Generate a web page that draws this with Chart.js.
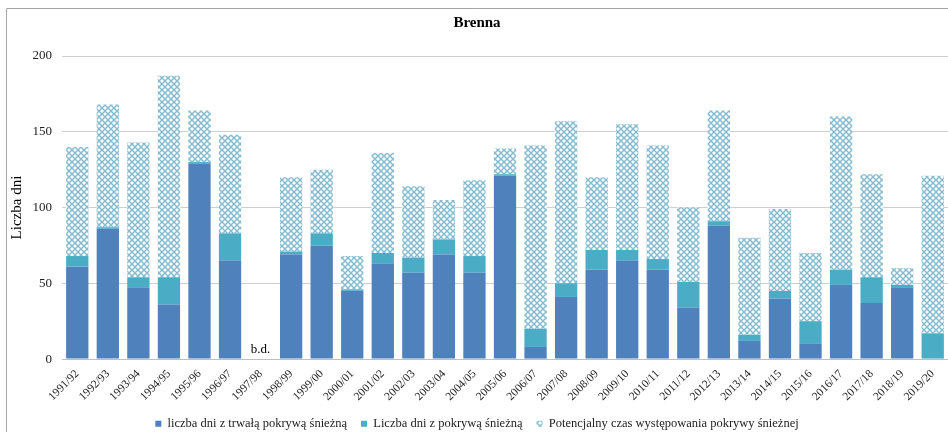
<!DOCTYPE html>
<html>
<head>
<meta charset="utf-8">
<script src="https://cdn.jsdelivr.net/npm/chart.js@4/dist/chart.umd.min.js"></script>
<style>
  html, body { margin: 0; padding: 0; background: #fff; overflow: hidden; }
  #wrap { position: relative; width: 948px; height: 432px; }
</style>
</head>
<body>
<div id="wrap"><canvas id="chart" width="948" height="432"></canvas></div>
<script>
// Sezony zimowe
const seasons = [
  "1991/92", "1992/93", "1993/94", "1994/95", "1995/96", "1996/97", "1997/98",
  "1998/99", "1999/00", "2000/01", "2001/02", "2002/03", "2003/04", "2004/05",
  "2005/06", "2006/07", "2007/08", "2008/09", "2009/10", "2010/11", "2011/12",
  "2012/13", "2013/14", "2014/15", "2015/16", "2016/17", "2017/18", "2018/19",
  "2019/20"
];

// dni z trwałą pokrywą
const stableCover = [61, 86, 47, 36, 129, 65, null, 69, 75, 45, 63, 57, 69, 57, 121, 8, 41, 59, 65, 59, 34, 88, 12, 40, 10, 49, 37, 47, 0];
// pozostałe dni z pokrywą (nadwyżka ponad trwałą)
const otherCover = [7, 1, 7, 18, 1, 18, null, 2, 8, 1, 7, 10, 10, 11, 1, 12, 9, 13, 7, 7, 17, 3, 4, 5, 15, 10, 17, 2, 17];
// reszta potencjalnego okresu
const potentialRest = [72, 81, 89, 133, 34, 65, null, 49, 42, 22, 66, 47, 26, 50, 17, 121, 107, 48, 83, 75, 49, 73, 64, 54, 45, 101, 68, 11, 104];

const yTicks = [0, 50, 100, 150, 200];
const missingSeason = "1997/98";
const missingLabel = "b.d.";

const serif = "'Liberation Serif', 'Times New Roman', serif";

// kratka w romby dla potencjalnego czasu
function diamondPattern() {
  const c = document.createElement("canvas");
  c.width = 6; c.height = 6;
  const g = c.getContext("2d");
  g.fillStyle = "#ffffff";
  g.fillRect(0, 0, 6, 6);
  g.strokeStyle = "#86bccf";
  g.lineWidth = 1.5;
  g.beginPath();
  g.moveTo(0, 0); g.lineTo(6, 6);
  g.moveTo(6, 0); g.lineTo(0, 6);
  g.stroke();
  return g.createPattern(c, "repeat");
}
const hatch = diamondPattern();

// ramka wykresu (lewa i górna krawędź)
const frame = {
  id: "frame",
  beforeDraw(chart) {
    const ctx = chart.ctx;
    ctx.save();
    ctx.strokeStyle = "#a6a6a6";
    ctx.lineWidth = 1;
    ctx.beginPath();
    ctx.moveTo(6.5, chart.height);
    ctx.lineTo(6.5, 8.5);
    ctx.lineTo(chart.width, 8.5);
    ctx.stroke();
    ctx.restore();
  }
};

// opis "b.d." dla sezonu bez danych
const noData = {
  id: "noData",
  afterDatasetsDraw(chart) {
    const x = chart.scales.x.getPixelForValue(seasons.indexOf(missingSeason));
    const y = chart.scales.y.getPixelForValue(0);
    const ctx = chart.ctx;
    ctx.save();
    ctx.font = "13px " + serif;
    ctx.fillStyle = "#000";
    ctx.textAlign = "center";
    ctx.textBaseline = "bottom";
    ctx.fillText(missingLabel, x, y - 3);
    ctx.restore();
  }
};

new Chart(document.getElementById("chart"), {
  type: "bar",
  data: {
    labels: seasons,
    datasets: [
      {
        label: "liczba dni z trwałą pokrywą śnieżną",
        data: stableCover,
        backgroundColor: "#4f81bd"
      },
      {
        label: "Liczba dni z pokrywą śnieżną",
        data: otherCover,
        backgroundColor: "#4bacc6"
      },
      {
        label: "Potencjalny czas występowania pokrywy śnieżnej",
        data: potentialRest,
        backgroundColor: hatch
      }
    ]
  },
  options: {
    responsive: false,
    animation: false,
    barPercentage: 0.73,
    categoryPercentage: 1,
    layout: { padding: { left: 6, right: 0, top: 8, bottom: -8 } },
    plugins: {
      title: {
        display: true,
        text: "Brenna",
        color: "#000",
        font: { family: serif, size: 15, weight: "bold" },
        padding: { top: 6, bottom: 24 }
      },
      legend: {
        position: "bottom",
        labels: {
          color: "#222",
          font: { family: serif, size: 12.5 },
          boxWidth: 6,
          boxHeight: 6,
          padding: 14
        }
      },
      tooltip: { enabled: false }
    },
    scales: {
      x: {
        stacked: true,
        grid: { display: false },
        border: { color: "#bfbfbf" },
        ticks: {
          color: "#222",
          font: { family: serif, size: 11.5 },
          minRotation: 45,
          maxRotation: 45,
          autoSkip: false,
          padding: 0
        }
      },
      y: {
        stacked: true,
        min: yTicks[0],
        max: yTicks[yTicks.length - 1],
        grid: { color: "#cfcfcf", drawTicks: false },
        border: { display: false },
        ticks: {
          stepSize: yTicks[1] - yTicks[0],
          color: "#222",
          font: { family: serif, size: 13 },
          padding: 10
        },
        title: {
          display: true,
          text: "Liczba dni",
          color: "#000",
          font: { family: serif, size: 15 },
          padding: { top: 2, bottom: 7 }
        },
        // węższa oś: tytuł, etykiety i odstęp bez zapasu
        afterFit(scale) {
          scale.width = 56;
        }
      }
    }
  },
  plugins: [frame, noData]
});
</script>
</body>
</html>
